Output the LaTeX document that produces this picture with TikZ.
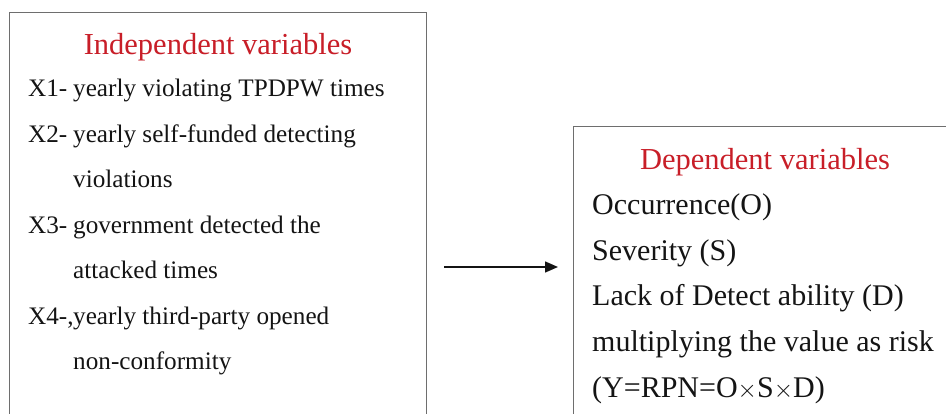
\documentclass[tikz,border=0pt]{standalone}
\usepackage{fontspec}
\setmainfont{Liberation Serif}
\usepackage{tikz}
\usetikzlibrary{positioning}
\usetikzlibrary{arrows.meta}
\usepackage{xcolor}
\definecolor{titred}{RGB}{200,30,40}
\definecolor{boxgray}{RGB}{110,110,110}
\definecolor{txtblack}{RGB}{20,20,20}
\newcommand{\vlab}[1]{\makebox[45pt][l]{#1}}

\begin{document}
\begin{tikzpicture}[x=1pt,y=-1pt,node distance=45.5pt,on grid,
    varbox/.style={draw=boxgray,line width=1.4pt,rectangle,anchor=north west},
    vartitle/.style={text=titred,font=\fontsize{30.5}{30}\selectfont,inner sep=0pt,anchor=base},
    indep/.style={text=txtblack,font=\fontsize{25.2}{25}\selectfont,inner sep=0pt,anchor=base west},
    dep/.style={text=txtblack,font=\fontsize{30}{30}\selectfont,inner sep=0pt,anchor=base west}]

        \clip (0,0) rectangle (946,414);

        \node[varbox, minimum width=417pt, minimum height=420pt] (lbox) at (9,12) {};
        \node[varbox, minimum width=390pt, minimum height=300pt] (rbox) at (573,126) {};

        \node[vartitle] (ltitle) at (218,55) {Independent variables};
        \node[indep] (x1) at (28,97) {\vlab{X1-}yearly violating TPDPW times};
        \node[indep] (x2) [below=of x1.base west, anchor=base west] {\vlab{X2-}yearly self-funded detecting};
        \node[indep] (x2b) [below=of x2.base west, anchor=base west] {\vlab{}violations};
        \node[indep] (x3) [below=of x2b.base west, anchor=base west] {\vlab{X3-}government detected the};
        \node[indep] (x3b) [below=of x3.base west, anchor=base west] {\vlab{}attacked times};
        \node[indep] (x4) [below=of x3b.base west, anchor=base west] {\vlab{X4-,}yearly third-party opened};
        \node[indep] (x4b) [below=of x4.base west, anchor=base west] {\vlab{}non-conformity};

        \node[vartitle] (rtitle) at (765,170) {Dependent variables};
        \node[dep] (occ) at (592,215) {Occurrence(O)};
        \node[dep] (sev) [below=of occ.base west, anchor=base west] {Severity (S)};
        \node[dep] (det) [below=of sev.base west, anchor=base west] {Lack of Detect ability (D)};
        \node[dep] (mul) [below=of det.base west, anchor=base west] {multiplying the value as risk};
        \node[dep] (rpn) [below=of mul.base west, anchor=base west] {(Y=RPN=O$\times$S$\times$D)};

        \coordinate (a0) at (444,267);
        \coordinate (a1) at (558,267);

        \draw[-{Triangle[length=13pt,width=11pt]},line width=1.5pt,txtblack] (a0) -- (a1);

\end{tikzpicture}
\end{document}
